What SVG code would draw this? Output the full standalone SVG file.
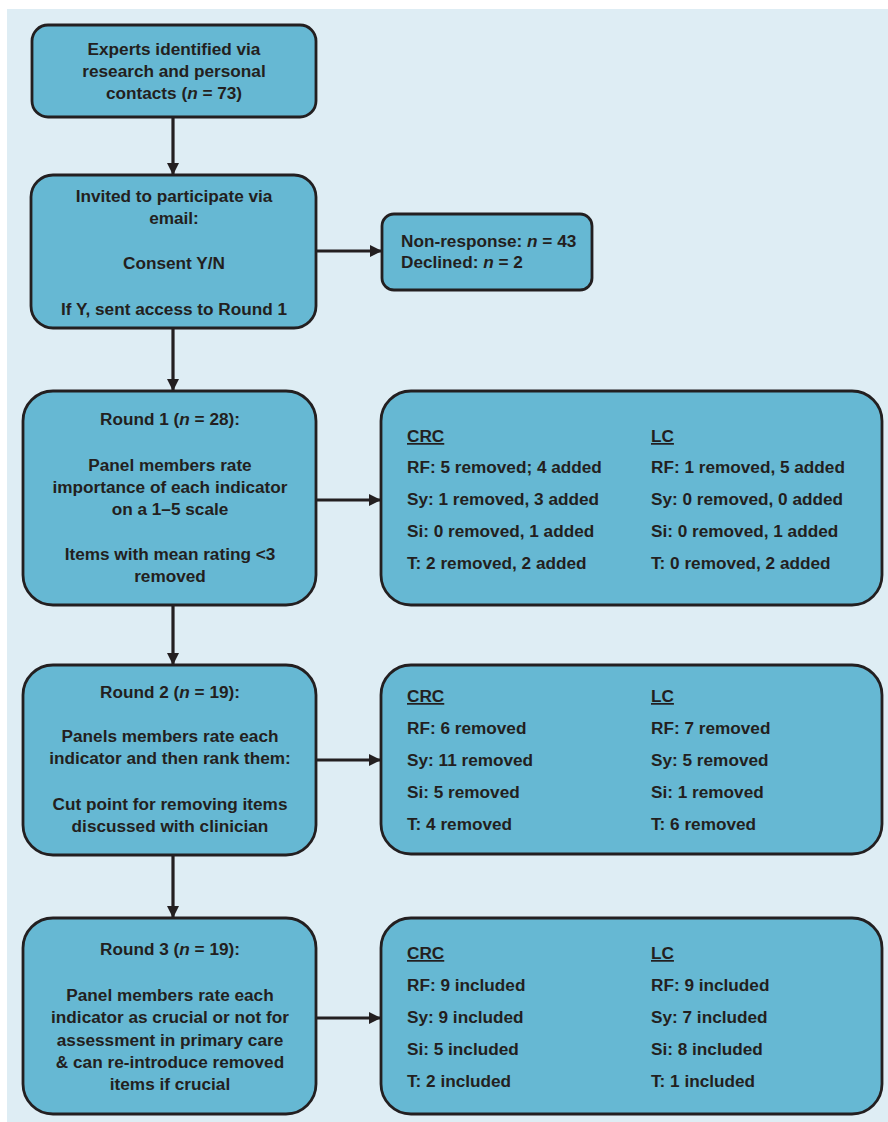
<svg xmlns="http://www.w3.org/2000/svg" width="888" height="1122" viewBox="0 0 888 1122">
<defs>
<style>
.bx{fill:#66b8d3;stroke:#231f20;stroke-width:2.8}
text{font-family:"Liberation Sans",Arial,sans-serif;font-weight:bold;font-size:17.2px;fill:#231f20}
.c{text-anchor:middle}
.ln{stroke:#231f20;stroke-width:3.2;fill:none}
</style>
<marker id="ah" viewBox="0 0 10 10" refX="10" refY="5" markerWidth="4" markerHeight="3.8" orient="auto" markerUnits="strokeWidth">
<path d="M0,0 L10,5 L0,10 z" fill="#231f20"/>
</marker>
</defs>
<rect x="0" y="0" width="888" height="1122" fill="#ffffff"/>
<rect x="7" y="9" width="881" height="1113" fill="#deedf4"/>
<g id="connectors">
<line class="ln" x1="173" y1="117" x2="173" y2="175" marker-end="url(#ah)"/>
<line class="ln" x1="173" y1="328" x2="173" y2="391" marker-end="url(#ah)"/>
<line class="ln" x1="173" y1="605" x2="173" y2="665" marker-end="url(#ah)"/>
<line class="ln" x1="173" y1="855" x2="173" y2="918" marker-end="url(#ah)"/>
<line class="ln" x1="316" y1="251" x2="382" y2="251" marker-end="url(#ah)"/>
<line class="ln" x1="316" y1="500" x2="381" y2="500" marker-end="url(#ah)"/>
<line class="ln" x1="316" y1="760" x2="381" y2="760" marker-end="url(#ah)"/>
<line class="ln" x1="316" y1="1018" x2="381" y2="1018" marker-end="url(#ah)"/>
</g>
<g id="experts">
<rect class="bx" x="32" y="25" width="284" height="92" rx="16"/>
<text class="c" x="174" y="55">Experts identified via</text>
<text class="c" x="174" y="77">research and personal</text>
<text class="c" x="174" y="99">contacts (<tspan font-style="italic">n</tspan> = 73)</text>
</g>
<g id="invited">
<rect class="bx" x="31" y="175" width="285" height="153" rx="22"/>
<text class="c" x="174" y="202">Invited to participate via</text>
<text class="c" x="174" y="224">email:</text>
<text class="c" x="174" y="269">Consent Y/N</text>
<text class="c" x="174" y="315">If Y, sent access to Round 1</text>
</g>
<g id="nonresponse">
<rect class="bx" x="382" y="214" width="210" height="76" rx="12"/>
<text x="401" y="247">Non-response: <tspan font-style="italic">n</tspan> = 43</text>
<text x="401" y="268">Declined: <tspan font-style="italic">n</tspan> = 2</text>
</g>
<g id="round1">
<rect class="bx" x="23" y="391" width="293" height="214" rx="30"/>
<text class="c" x="170" y="425">Round 1 (<tspan font-style="italic">n</tspan> = 28):</text>
<text class="c" x="170" y="471">Panel members rate</text>
<text class="c" x="170" y="493">importance of each indicator</text>
<text class="c" x="170" y="515">on a 1–5 scale</text>
<text class="c" x="170" y="560">Items with mean rating &lt;3</text>
<text class="c" x="170" y="582">removed</text>
</g>
<g id="round1-results">
<rect class="bx" x="381" y="391" width="501" height="214" rx="30"/>
<text x="407" y="442" text-decoration="underline">CRC</text>
<text x="407" y="473">RF: 5 removed; 4 added</text>
<text x="407" y="505">Sy: 1 removed, 3 added</text>
<text x="407" y="537">Si: 0 removed, 1 added</text>
<text x="407" y="569">T: 2 removed, 2 added</text>
<text x="651" y="442" text-decoration="underline">LC</text>
<text x="651" y="473">RF: 1 removed, 5 added</text>
<text x="651" y="505">Sy: 0 removed, 0 added</text>
<text x="651" y="537">Si: 0 removed, 1 added</text>
<text x="651" y="569">T: 0 removed, 2 added</text>
</g>
<g id="round2">
<rect class="bx" x="23" y="665" width="293" height="190" rx="30"/>
<text class="c" x="170" y="698">Round 2 (<tspan font-style="italic">n</tspan> = 19):</text>
<text class="c" x="170" y="742">Panels members rate each</text>
<text class="c" x="170" y="764">indicator and then rank them:</text>
<text class="c" x="170" y="810">Cut point for removing items</text>
<text class="c" x="170" y="832">discussed with clinician</text>
</g>
<g id="round2-results">
<rect class="bx" x="381" y="665" width="501" height="189" rx="30"/>
<text x="407" y="702" text-decoration="underline">CRC</text>
<text x="407" y="734">RF: 6 removed</text>
<text x="407" y="766">Sy: 11 removed</text>
<text x="407" y="798">Si: 5 removed</text>
<text x="407" y="830">T: 4 removed</text>
<text x="651" y="702" text-decoration="underline">LC</text>
<text x="651" y="734">RF: 7 removed</text>
<text x="651" y="766">Sy: 5 removed</text>
<text x="651" y="798">Si: 1 removed</text>
<text x="651" y="830">T: 6 removed</text>
</g>
<g id="round3">
<rect class="bx" x="23" y="918" width="293" height="196" rx="30"/>
<text class="c" x="170" y="955">Round 3 (<tspan font-style="italic">n</tspan> = 19):</text>
<text class="c" x="170" y="1001">Panel members rate each</text>
<text class="c" x="170" y="1023">indicator as crucial or not for</text>
<text class="c" x="170" y="1046">assessment in primary care</text>
<text class="c" x="170" y="1068">&amp; can re-introduce removed</text>
<text class="c" x="170" y="1090">items if crucial</text>
</g>
<g id="round3-results">
<rect class="bx" x="381" y="918" width="501" height="196" rx="30"/>
<text x="407" y="959" text-decoration="underline">CRC</text>
<text x="407" y="991">RF: 9 included</text>
<text x="407" y="1023">Sy: 9 included</text>
<text x="407" y="1055">Si: 5 included</text>
<text x="407" y="1087">T: 2 included</text>
<text x="651" y="959" text-decoration="underline">LC</text>
<text x="651" y="991">RF: 9 included</text>
<text x="651" y="1023">Sy: 7 included</text>
<text x="651" y="1055">Si: 8 included</text>
<text x="651" y="1087">T: 1 included</text>
</g>
</svg>
